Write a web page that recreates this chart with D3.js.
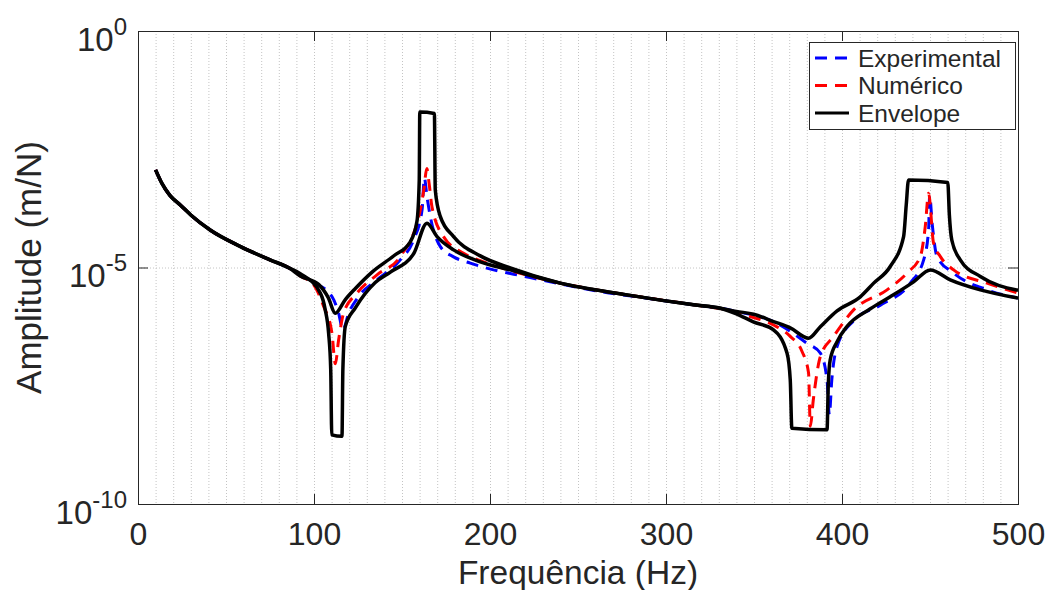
<!DOCTYPE html>
<html>
<head>
<meta charset="utf-8">
<script src="https://cdn.jsdelivr.net/npm/d3@7"></script>
<style>
  body { margin: 0; background: #fff; }
  text { font-family: 'Liberation Sans', Arial, Helvetica, sans-serif; fill: #262626; }
</style>
</head>
<body>
<div id="chart"></div>
<script>
// [frequencia (Hz), amplitude (m/N)]
const experimental = [
  [10, 1.16e-3], [13.6, 6.0e-4], [18, 3.4e-4], [24, 2.1e-4], [30, 1.29e-4], [41, 6.2e-5],
  [58, 2.8e-5], [75, 1.45e-5], [86, 9.7e-6], [92.2, 7.0e-6], [100.7, 4.67e-6], [110.2, 2.43e-6],
  [114, 1.08e-6], [116.4, 4.8e-7], [119.7, 1.08e-6], [125.3, 2.43e-6], [135.8, 5.5e-6],
  [149, 1.45e-5], [156.6, 3.84e-5], [161.4, 1.65e-4], [162.7, 7.8e-4], [164.2, 3.15e-4],
  [166.1, 1.19e-4], [171.8, 2.77e-5], [179.3, 1.68e-5], [188.8, 1.24e-5], [202, 8.9e-6],
  [215.3, 7.0e-6], [239.9, 4.5e-6], [262.7, 3.1e-6], [289.2, 2.25e-6], [315.7, 1.63e-6],
  [330.9, 1.38e-6], [340.3, 1.17e-6], [361.1, 7.2e-7], [380.1, 2.5e-7], [387.7, 1.55e-7],
  [391.5, 4.2e-8], [392.8, 7.7e-9], [394.2, 4.2e-8], [397.2, 2.14e-7], [406.6, 7.5e-7],
  [421.8, 1.6e-6], [438.8, 4.67e-6], [446.4, 1.45e-5], [449.2, 6.2e-5], [449.8, 3.27e-4],
  [451.3, 8.0e-5], [454, 1.7e-5], [463.4, 7.6e-6], [482.4, 3.37e-6], [500, 2.25e-6]
];

const numerico = [
  [10, 1.16e-3], [13.6, 6.0e-4], [18, 3.4e-4], [24, 2.1e-4], [30, 1.29e-4], [41, 6.2e-5],
  [58, 2.8e-5], [75, 1.45e-5], [86, 9.7e-6], [92.2, 6.6e-6], [99.8, 4.3e-6], [105.5, 1.5e-6],
  [110.2, 4.1e-7], [112.1, 9.2e-8], [114, 2.96e-7], [116.8, 1.08e-6], [124.4, 2.87e-6],
  [135.8, 7.0e-6], [149, 1.7e-5], [160.4, 1.65e-4], [162.4, 4.4e-4], [164.1, 1.24e-3],
  [165.5, 5.6e-4], [167, 1.94e-4], [173.6, 4.5e-5], [185, 2.0e-5], [194.5, 1.4e-5],
  [211.5, 8.7e-6], [239.9, 4.67e-6], [277.8, 2.64e-6], [315.7, 1.63e-6], [334.7, 1.27e-6],
  [347.9, 9.2e-7], [361.1, 6.1e-7], [370.6, 3.5e-7], [377.3, 1.68e-7], [381, 5.9e-8],
  [382, 4.4e-9], [383.7, 1.6e-8], [387.7, 1.31e-7], [395.2, 3.5e-7], [406.6, 1.27e-6],
  [425.6, 3.37e-6], [436.9, 7.6e-6], [444.5, 1.7e-5], [447.3, 7.3e-5], [449.2, 3.7e-4],
  [452, 3.3e-5], [455.9, 1.7e-5], [463.4, 8.9e-6], [482.4, 4.67e-6], [500, 2.87e-6]
];

// envelope = two bounding curves
const envelopeA = [
  [10, 1.16e-3], [13.6, 6.0e-4], [18, 3.4e-4], [24, 2.1e-4], [30, 1.29e-4], [41, 6.2e-5],
  [58, 2.8e-5], [75, 1.45e-5], [86, 9.7e-6], [92.2, 6.6e-6], [102.6, 4.4e-6], [108.1, 2.3e-6],
  [112.1, 1.08e-6], [117.8, 2.1e-6], [123.5, 3.6e-6], [133, 8.0e-6], [145.2, 1.75e-5],
  [154.7, 3.5e-5], [158.5, 9.5e-5], [159.8, 7.1e-4], [160.1, 1.94e-2], [168.4, 1.81e-2],
  [168.9, 4.37e-4], [171.8, 1.19e-4], [179.3, 4.5e-5], [194.5, 1.76e-5], [211.5, 9.8e-6],
  [239.9, 4.67e-6], [277.8, 2.64e-6], [315.7, 1.63e-6], [330.9, 1.38e-6], [340, 1.18e-6],
  [349.8, 1.03e-6], [361.1, 7.2e-7], [370.6, 5.3e-7], [381, 3.2e-7], [387.7, 5.6e-7],
  [397.2, 1.21e-6], [410.4, 2.4e-6], [418, 4.67e-6], [427.4, 1.05e-5], [435, 4.5e-5],
  [436.5, 2.1e-4], [437.8, 7.1e-4], [460.1, 6.3e-4], [461, 1.3e-4], [462.4, 3.8e-5],
  [467.2, 1.45e-5], [478.6, 6.44e-6], [500, 3.3e-6]
];

const envelopeB = [
  [10, 1.16e-3], [13.6, 6.0e-4], [18, 3.4e-4], [24, 2.1e-4], [30, 1.29e-4], [41, 6.2e-5],
  [58, 2.8e-5], [75, 1.45e-5], [86, 9.7e-6], [92.2, 7.4e-6], [103.6, 2.87e-6], [106.4, 1.27e-6],
  [108.3, 4.1e-7], [109.5, 6.9e-8], [110.1, 2.9e-9], [115.9, 2.7e-9], [116.4, 6.9e-8],
  [117.8, 5.7e-7], [123.5, 1.4e-6], [134.8, 4.8e-6], [143.4, 8.0e-6], [156.6, 1.95e-5],
  [164.2, 8.65e-5], [169.9, 4.5e-5], [179.3, 2.36e-5], [194.5, 1.32e-5], [211.5, 8.9e-6],
  [239.9, 4.67e-6], [277.8, 2.64e-6], [315.7, 1.63e-6], [330.9, 1.38e-6], [340, 1.05e-6],
  [349.6, 7.1e-7], [361.1, 4.8e-7], [368.75, 1.55e-7], [370.6, 4.2e-8], [371.5, 4.0e-9],
  [391.5, 3.7e-9], [392.2, 3.3e-8], [393.3, 1.12e-7], [397.2, 2.7e-7], [402.8, 5.65e-7],
  [416.1, 1.34e-6], [427.4, 2.4e-6], [440.7, 4.97e-6], [450.2, 8.9e-6], [461.5, 5.5e-6],
  [478.6, 3.37e-6], [500, 2.25e-6]
];

const xTicks = [0, 100, 200, 300, 400, 500];
const yTicks = [1e-10, 1e-5, 1];
const legendLabels = ['Experimental', 'Numérico', 'Envelope'];

// dimensions
const margin = { top: 31, right: 31, bottom: 86, left: 138 },
  width = 1049 - margin.left - margin.right,
  height = 590 - margin.top - margin.bottom;

const svg = d3
  .select('#chart')
  .append('svg')
  .attr('width', 1049)
  .attr('height', 590);

const g = svg.append('g').attr('transform', `translate(${margin.left}, ${margin.top})`);

const x = d3.scaleLinear().domain([0, 500]).range([0, width]);
const y = d3.scaleLog().domain([1e-10, 1]).range([height, 0]);

// dotted grid: every 10 Hz vertically, 1e-5 horizontally
g.append('g')
  .selectAll('line')
  .data(d3.range(10, 500, 10))
  .enter()
  .append('line')
  .attr('x1', d => x(d) + 0.5)
  .attr('x2', d => x(d) + 0.5)
  .attr('y1', 0)
  .attr('y2', height)
  .style('stroke', '#c4c4c4')
  .style('stroke-width', 1)
  .style('stroke-dasharray', '1,2');

g.append('line')
  .attr('x1', 0)
  .attr('x2', width)
  .attr('y1', y(1e-5) + 0.5)
  .attr('y2', y(1e-5) + 0.5)
  .style('stroke', '#c4c4c4')
  .style('stroke-width', 1)
  .style('stroke-dasharray', '1,2');

// curves
const line = d3
  .line()
  .x(d => x(d[0]))
  .y(d => y(d[1]))
  .curve(d3.curveMonotoneX);

const series = [
  { data: experimental, color: '#0000ff', dash: '12,8', w: 3 },
  { data: numerico, color: '#ff0000', dash: '12,8', w: 3 },
  { data: envelopeA, color: '#000000', dash: null, w: 3.5 },
  { data: envelopeB, color: '#000000', dash: null, w: 3.5 }
];

g.append('g')
  .selectAll('path')
  .data(series)
  .enter()
  .append('path')
  .attr('d', d => line(d.data))
  .style('fill', 'none')
  .style('stroke', d => d.color)
  .style('stroke-width', d => d.w)
  .style('stroke-dasharray', d => d.dash)
  .style('stroke-linejoin', 'round');

// axes (ticks inward)
const xAxis = g
  .append('g')
  .attr('transform', `translate(0, ${height})`)
  .call(d3.axisBottom(x).tickValues(xTicks).tickSizeInner(-10).tickSizeOuter(0).tickPadding(18));
xAxis.select('.domain').remove();
xAxis.selectAll('text').style('font-size', '32px').style('fill', '#262626');

const xAxisTop = g
  .append('g')
  .call(d3.axisTop(x).tickValues(xTicks).tickSizeInner(-10).tickSizeOuter(0).tickFormat(''));
xAxisTop.select('.domain').remove();

const yAxis = g
  .append('g')
  .call(d3.axisLeft(y).tickValues(yTicks).tickSizeInner(-10).tickSizeOuter(0).tickFormat(''));
yAxis.select('.domain').remove();
yAxis.selectAll('text').remove();

// 10^n labels
const yLab = yAxis
  .selectAll('.tick')
  .append('text')
  .attr('x', -11)
  .attr('y', 19)
  .attr('text-anchor', 'end')
  .style('font-size', '33px');
yLab.append('tspan').text('10');
yLab
  .append('tspan')
  .attr('dy', -16)
  .style('font-size', '24px')
  .text(d => Math.round(Math.log10(d)));

const yAxisRight = g
  .append('g')
  .attr('transform', `translate(${width}, 0)`)
  .call(d3.axisRight(y).tickValues(yTicks).tickSizeInner(-10).tickSizeOuter(0).tickFormat(''));
yAxisRight.select('.domain').remove();

g.selectAll('.tick line').style('stroke', '#262626');

// box
g.append('rect')
  .attr('x', 0.5)
  .attr('y', 0.5)
  .attr('width', width)
  .attr('height', height)
  .style('fill', 'none')
  .style('stroke', '#262626')
  .style('stroke-width', 1);

// axis titles
svg
  .append('text')
  .attr('x', margin.left + width / 2)
  .attr('y', 584)
  .attr('text-anchor', 'middle')
  .style('font-size', '33.5px')
  .text('Frequência (Hz)');

svg
  .append('text')
  .attr('transform', `translate(41, ${margin.top + height / 2}) rotate(-90)`)
  .attr('text-anchor', 'middle')
  .style('font-size', '35px')
  .text('Amplitude (m/N)');

// legend
const legend = svg.append('g').attr('transform', 'translate(809, 42)');
legend
  .append('rect')
  .attr('x', 0.5)
  .attr('y', 0.5)
  .attr('width', 206)
  .attr('height', 87)
  .style('fill', '#fff')
  .style('stroke', '#262626')
  .style('stroke-width', 1);

const legendItem = legend
  .selectAll('.item')
  .data(legendLabels)
  .enter()
  .append('g')
  .attr('class', 'item')
  .attr('transform', (d, i) => `translate(0, ${16 + i * 27.5})`);

legendItem
  .append('line')
  .attr('x1', 6)
  .attr('x2', 40)
  .attr('y1', 0)
  .attr('y2', 0)
  .style('stroke', (d, i) => series[i].color)
  .style('stroke-width', 3)
  .style('stroke-dasharray', (d, i) => (i < 2 ? '12,8' : null));

legendItem
  .append('text')
  .attr('x', 49)
  .attr('y', 8.5)
  .style('font-size', '24.5px')
  .text(d => d);
</script>
</body>
</html>
